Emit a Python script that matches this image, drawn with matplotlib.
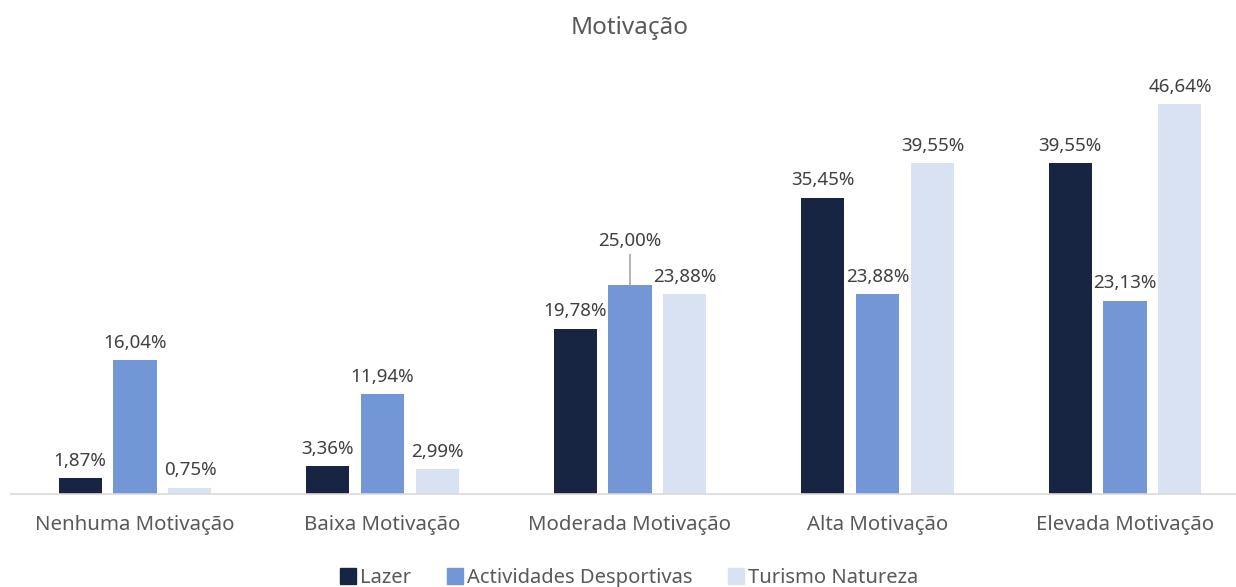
import matplotlib
matplotlib.use("Agg")
import matplotlib.pyplot as plt
import numpy as np
from matplotlib.lines import Line2D

categories = ["Nenhuma Motivação", "Baixa Motivação", "Moderada Motivação",
              "Alta Motivação", "Elevada Motivação"]
series_names = ["Lazer", "Actividades Desportivas", "Turismo Natureza"]
lazer = [1.87, 3.36, 19.78, 35.45, 39.55]
desportivas = [16.04, 11.94, 25.00, 23.88, 23.13]
natureza = [0.75, 2.99, 23.88, 39.55, 46.64]
colors = ["#172543", "#7396D6", "#D9E2F3"]

plt.rcParams['font.family'] = ['Noto Sans', 'DejaVu Sans']

W, H = 1236, 587
fig = plt.figure(figsize=(W / 100, H / 100), dpi=100)
left = 11.25 / W
right = 1248.75 / W
bottom = (H - 494) / H
top = (H - 76) / H
ax = fig.add_axes([left, bottom, right - left, top - bottom])

x = np.arange(len(categories))
bw = 0.174
step = 0.222
data = [lazer, desportivas, natureza]
for i, (vals, col, name) in enumerate(zip(data, colors, series_names)):
    pos = x + (i - 1) * step
    ax.bar(pos, vals, width=bw, color=col, label=name, zorder=2)
    for p, v in zip(pos, vals):
        lbl = f"{v:.2f}%".replace(".", ",")
        if i == 1 and abs(v - 25.00) < 1e-9:
            ax.annotate(lbl, xy=(p, v), xytext=(0, 25), textcoords="offset points",
                        ha="center", va="bottom", fontsize=13.5, color="#404040",
                        arrowprops=dict(arrowstyle="-", color="#A6A6A6", lw=1.2,
                                        shrinkA=1, shrinkB=0))
        else:
            ax.annotate(lbl, xy=(p, v), xytext=(0, 6), textcoords="offset points",
                        ha="center", va="bottom", fontsize=13.5, color="#404040")

ax.set_xlim(-0.5, len(categories) - 0.5)
ax.set_ylim(0, 50)
ax.set_xticks(x)
ax.set_xticklabels(categories, fontsize=14.7, color="#595959")
ax.tick_params(axis="x", length=0, pad=15)
ax.set_yticks([])
for s in ["top", "right", "left"]:
    ax.spines[s].set_visible(False)
ax.spines["bottom"].set_color("#D9D9D9")
ax.spines["bottom"].set_linewidth(1.2)

fig.text(630 / W, (H - 28) / H, "Motivação", ha="center", va="center",
         fontsize=17.5, color="#595959")

handles = [Line2D([0], [0], marker="s", linestyle="none", markersize=11.5,
                  markerfacecolor=c, markeredgecolor=c) for c in colors]
fig.legend(handles, series_names, loc="center", bbox_to_anchor=(628 / W, (H - 578) / H),
           ncol=3, frameon=False, fontsize=14.5, labelcolor="#595959",
           handletextpad=0.1, columnspacing=1.65, handlelength=1.0)

fig.savefig("out.png", dpi=100)
